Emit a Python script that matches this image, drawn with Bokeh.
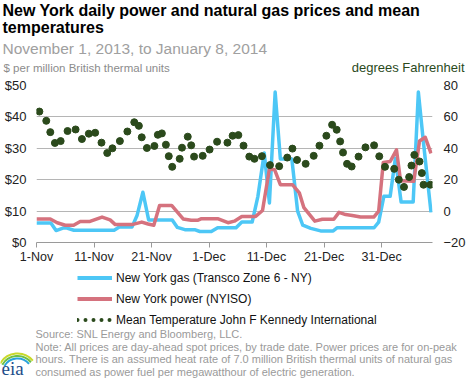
import math
from bokeh.plotting import figure
from bokeh.layouts import column
from bokeh.models import Range1d, LinearAxis, FixedTicker, Legend, LegendItem
from bokeh.core.properties import value
from bokeh.embed import file_html
from bokeh.resources import INLINE

# ---------------- data ----------------
x_tick_days = [0, 10, 20, 30, 40, 50, 60]
x_tick_labels = ["1-Nov", "11-Nov", "21-Nov", "1-Dec", "11-Dec", "21-Dec", "31-Dec"]
price_ticks = [0, 10, 20, 30, 40, 50]
price_tick_labels = ["$0", "$10", "$20", "$30", "$40", "$50"]
temp_ticks = [-20, 0, 20, 40, 60, 80]

# days after November 1, 2013
gas_day = [0, 2.5, 3.4, 4.6, 5.3, 6.5, 13.5, 14.4, 16.6, 17.5, 18.5, 19.5, 23.6, 24.5,
           25.8, 27.5, 28.4, 30.4, 31.5, 34.7, 35.7, 37.5, 38.5, 39.6, 40.5, 41.5, 42.4,
           44.4, 45.4, 46.3, 47.7, 49.4, 51.6, 52.3, 58.7, 59.5, 60.4, 61.5, 62.4, 63.4,
           65.5, 66.4, 67.3, 68.6]
gas_price = [6.2, 6.2, 3.8, 4.6, 4.6, 3.9, 3.9, 4.9, 4.9, 8.7, 16.0, 7.2, 7.2, 4.8,
             4.1, 4.1, 3.5, 3.5, 4.7, 4.7, 6.5, 6.5, 14.7, 28.5, 12.6, 47.9, 26.6,
             26.6, 10.0, 5.5, 4.5, 3.7, 3.7, 4.7, 4.7, 6.5, 14.7, 14.7, 26.8, 12.9,
             12.9, 47.9, 31.6, 9.6]

power_day = [0, 2.4, 3.6, 5.0, 6.45, 7.6, 9.3, 11.4, 12.8, 13.7, 16.6, 18.3, 19.4, 20.4,
             21.4, 23.5, 25.5, 26.9, 28.1, 28.7, 31.5, 33.3, 34.4, 35.7, 38.1, 39.3, 40.5,
             41.4, 42.4, 44.5, 45.7, 46.5, 48.4, 49.7, 51.7, 52.6, 53.75, 54.9, 56.35,
             58.65, 59.5, 60.3, 61.5, 62.6, 63.3, 65.6, 66.6, 67.6, 68.6]
power_price = [7.5, 7.5, 6.3, 5.5, 5.5, 6.7, 6.7, 8.1, 7.2, 5.7, 5.7, 6.5, 5.9, 5.5,
               11.8, 11.8, 7.5, 7.1, 7.1, 7.6, 7.6, 6.3, 6.8, 8.3, 8.3, 10.2, 23.4,
               23.2, 18.4, 18.4, 15.8, 11.1, 6.8, 7.4, 7.4, 9.6, 8.9, 8.6, 8.1,
               8.1, 10.0, 25.5, 25.8, 29.5, 19.7, 19.5, 32.3, 33.5, 28.4]

temp_day = [0.5, 1.7, 2.4, 3.2, 4.2, 5.4, 6.8, 7.9, 9.1, 10.2, 11.3, 12.3, 13.2, 14.5,
            15.8, 17.0, 17.8, 18.3, 19.2, 20.5, 21.1, 21.8, 22.5, 23.0, 23.6, 24.9,
            25.3, 26.3, 26.9, 27.4, 28.9, 30.1, 31.4, 33.2, 34.1, 35.1, 36.0, 37.0,
            37.9, 39.2, 40.6, 42.2, 43.6, 44.5, 45.3, 46.8, 48.2, 49.2, 50.4, 51.4,
            52.2, 52.8, 53.3, 54.0, 54.8, 56.0, 57.2, 58.7, 59.6, 60.6, 62.2, 63.0,
            63.9, 64.8, 65.2, 65.7, 66.6, 67.0, 67.3, 68.5]
temp_f = [63.4, 57.5, 50.3, 43.4, 44.6, 51.0, 52.0, 45.9, 49.3, 49.9, 43.6, 37.0, 40.0, 44.6,
          50.7, 56.6, 54.3, 47.0, 40.2, 41.5, 48.6, 49.5, 42.3, 35.0, 28.2, 33.3,
          40.4, 47.4, 41.9, 34.7, 35.2, 39.2, 44.2, 43.6, 48.0, 48.4, 41.7, 34.7,
          33.3, 35.0, 29.3, 28.6, 34.1, 39.8, 32.6, 30.1, 35.2, 41.7, 48.0, 55.0,
          51.8, 44.4, 37.3, 30.1, 28.4, 34.7, 40.6, 41.9, 34.9, 28.2, 26.9, 20.0,
          15.4, 21.7, 29.0, 35.8, 31.6, 24.2, 16.8, 16.8]

title_1 = "New York daily power and natural gas prices and mean"
title_2 = "temperatures"
subtitle = "November 1, 2013, to January 8, 2014"
left_title = "$ per million British thermal units"
right_title = "degrees Fahrenheit"
legend_labels = ["New York gas (Transco Zone 6 - NY)", "New York power (NYISO)",
                 "Mean Temperature John F Kennedy International"]
source_text = "Source:  SNL Energy and Bloomberg, LLC."
note_lines = ["Note: All prices are day-ahead spot prices, by trade date. Power prices are for on-peak",
              "hours. There is an assumed heat rate of 7.0 million British thermal units of natural gas",
              "consumed as power fuel per megawatthour of electric generation."]

# ---------------- styling / layout ----------------
BLUE = "#4DC7F6"
RED = "#D5727E"
GREEN = "#2B4A1C"
FONT = "Liberation Sans"
W = 468
TOP_H, MAIN_H, BOT_H = 77, 189, 116
FL, FR, FT, FB = 36, 434, 85, 243  # frame edges in page px


def text_fig(h):
    f = figure(width=W, height=h, output_backend="svg", toolbar_location=None,
               x_range=Range1d(0, W), y_range=Range1d(h, 0),
               x_axis_type=None, y_axis_type=None, frame_align=False,
               min_border=0, min_border_left=0, min_border_right=0,
               min_border_top=0, min_border_bottom=0)
    f.outline_line_color = None
    f.background_fill_color = "white"
    f.border_fill_color = "white"
    return f


def put(f, t, x, y, size, color, style="normal", align="left", font=FONT):
    f.text(x=[x], y=[y], text=[t], text_font=value(font), text_font_size=value(size),
           text_color=color, text_font_style=style, text_align=align,
           text_baseline="alphabetic")


# top: titles
top = text_fig(TOP_H)
put(top, title_1, 2, 10, "16px", "#000000", style="bold")
put(top, title_2, 2, 27, "16px", "#000000", style="bold")
put(top, subtitle, 2, 48, "15.5px", "#a0a0a0")
put(top, left_title, 3, 67, "11.5px", "#8c8c8c")
put(top, right_title, 464, 67, "13px", GREEN, align="right")

# main chart
p = figure(width=W, height=MAIN_H, output_backend="svg", toolbar_location=None,
           x_range=Range1d(0, (FR - FL) / 5.78), y_range=Range1d(0, 50),
           frame_align=False,
           min_border_left=FL, min_border_right=W - FR,
           min_border_top=FT - TOP_H, min_border_bottom=TOP_H + MAIN_H - FB)
p.outline_line_color = None
p.background_fill_color = "white"
p.border_fill_color = "white"
p.extra_y_ranges = {"temp": Range1d(-20, 80)}

p.xaxis.ticker = FixedTicker(ticks=x_tick_days)
p.xaxis.major_label_overrides = dict(zip(x_tick_days, x_tick_labels))
p.xaxis.axis_line_color = "#9a9a9a"
p.xaxis.major_tick_line_color = "#9a9a9a"
p.xaxis.major_tick_out = 5
p.xaxis.major_tick_in = 0
p.xaxis.minor_tick_line_color = None
p.xaxis.major_label_standoff = 2
p.xaxis.major_label_text_font = FONT
p.xaxis.major_label_text_font_size = "12.5px"
p.xaxis.major_label_text_color = "#222222"

p.yaxis.ticker = FixedTicker(ticks=price_ticks)
p.yaxis.major_label_overrides = dict(zip(price_ticks, price_tick_labels))
p.yaxis.axis_line_color = None
p.yaxis.major_tick_line_color = None
p.yaxis.minor_tick_line_color = None
p.yaxis.major_tick_out = 0
p.yaxis.major_tick_in = 0
p.yaxis.major_label_standoff = 10
p.yaxis.major_label_text_font = FONT
p.yaxis.major_label_text_font_size = "13px"
p.yaxis.major_label_text_color = "#222222"

raxis = LinearAxis(y_range_name="temp", ticker=FixedTicker(ticks=temp_ticks),
                   axis_line_color=None, major_tick_line_color=None,
                   minor_tick_line_color=None, major_tick_out=0, major_tick_in=0,
                   major_label_standoff=11, major_label_text_font=FONT,
                   major_label_text_font_size="13px", major_label_text_color="#222222")
p.add_layout(raxis, "right")

p.xgrid.grid_line_color = None
p.ygrid.ticker = FixedTicker(ticks=price_ticks[1:])
p.ygrid.grid_line_color = "#b5b5b5"
p.ygrid.grid_line_width = 1

p.line(gas_day, gas_price, line_color=BLUE, line_width=3.5, line_join="round")
p.line(power_day, power_price, line_color=RED, line_width=3.5, line_join="round")
p.scatter(temp_day, temp_f, y_range_name="temp", size=7,
          fill_color=GREEN, line_color=GREEN)

# bottom: legend + notes
bot = text_fig(BOT_H)
off_x, off_y = [-20, -10], [-20, -20]   # legend-only stand-ins, outside the view
g1 = bot.line(off_x, off_y, line_color=BLUE, line_width=4)
g2 = bot.line(off_x, off_y, line_color=RED, line_width=4)
g3 = bot.line(off_x, off_y, line_color=GREEN, line_width=4, line_dash="0 8",
              line_cap="round")
legend = Legend(items=[LegendItem(label=legend_labels[0], renderers=[g1]),
                       LegendItem(label=legend_labels[1], renderers=[g2]),
                       LegendItem(label=legend_labels[2], renderers=[g3])],
                location=(77, BOT_H - 64), orientation="vertical",
                glyph_width=35, glyph_height=21, label_height=21, spacing=0,
                padding=0, margin=0, label_standoff=4,
                border_line_color=None, background_fill_alpha=0,
                label_text_font=FONT, label_text_font_size="12px",
                label_text_color="#111111")
bot.add_layout(legend, "center")

y0 = TOP_H + MAIN_H
put(bot, source_text, 35, 333 - y0, "11px", "#9a9a9a")
for i, t in enumerate(note_lines):
    put(bot, t, 35, 346 - y0 + 12.6 * i, "11px", "#9a9a9a")
# eia logo
for r, c in [(20, "#c8d92b"), (17.5, "#6cbf45"), (15, "#2aa3dc")]:
    bot.arc(x=[17], y=[373 - y0], radius=r, radius_units="screen",
            start_angle=math.radians(40), end_angle=math.radians(150),
            line_color=c, line_width=2)
put(bot, "eia", 1, 368 - y0, "19px", "#1d4d8a", font="Liberation Serif")

layout = column(top, p, bot, spacing=0)
open("out.html", "w").write(file_html(layout, INLINE))
